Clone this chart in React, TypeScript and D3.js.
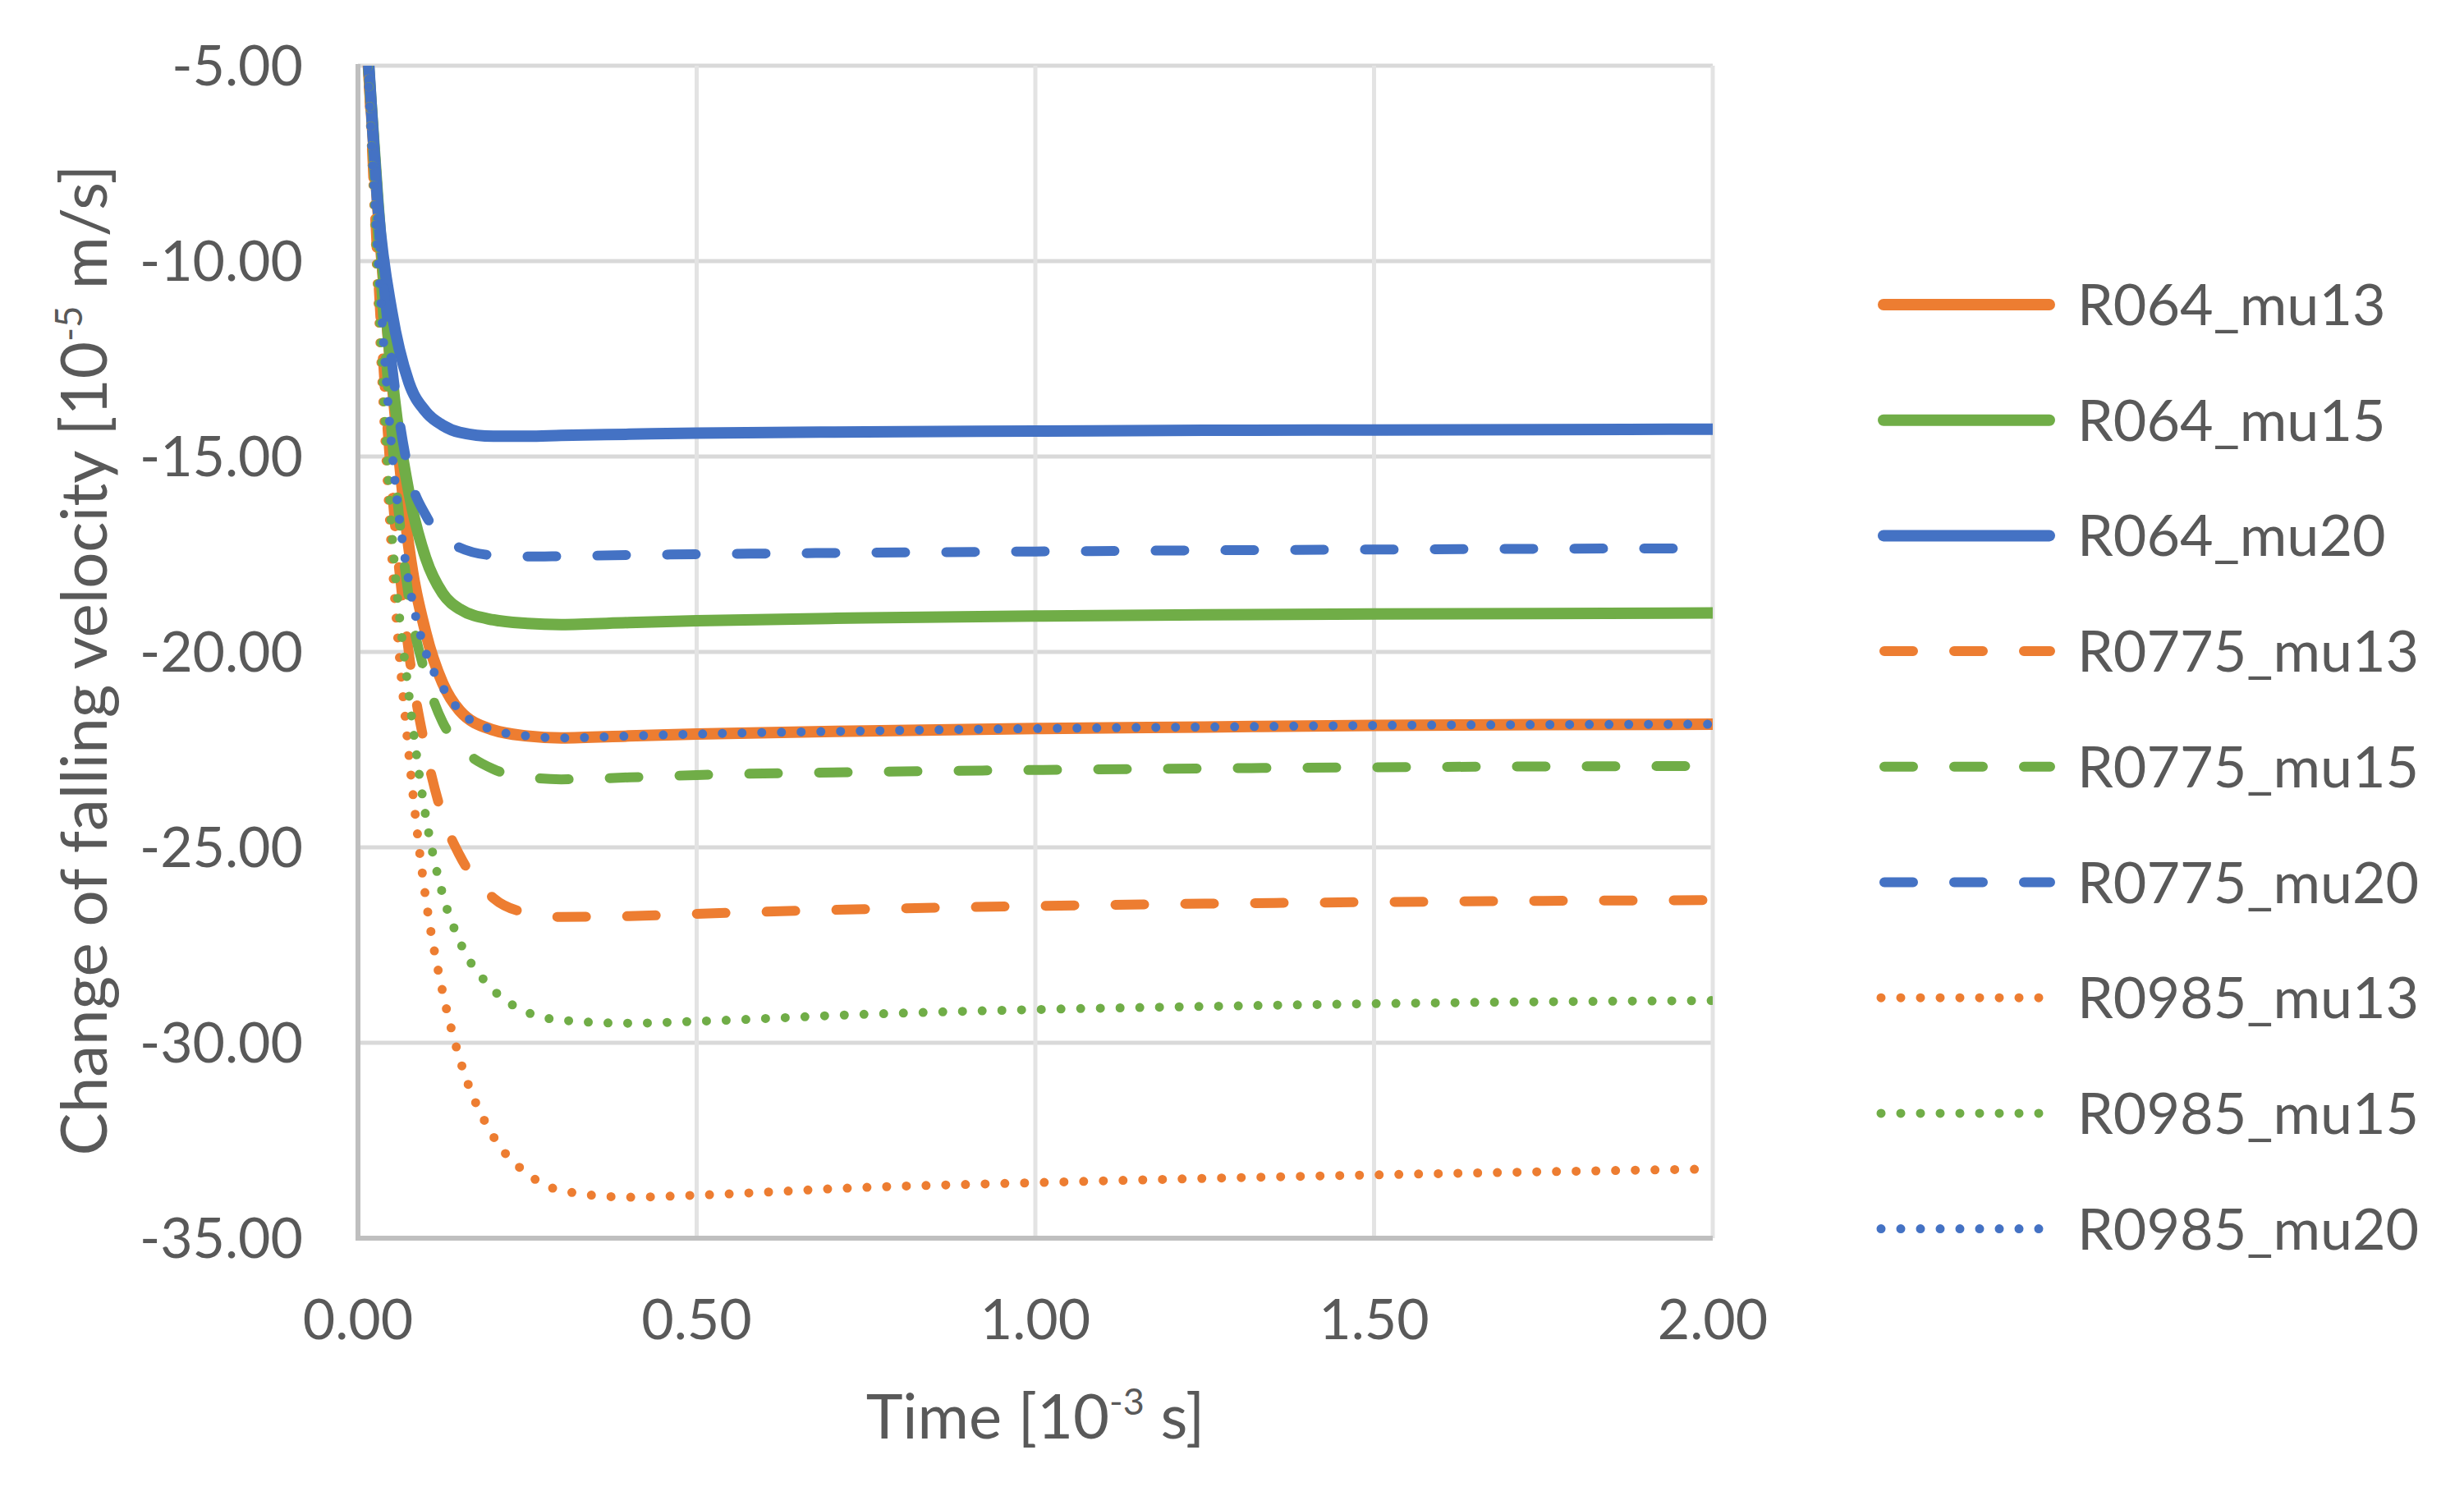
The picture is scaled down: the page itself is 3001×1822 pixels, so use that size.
import React from 'react';
import * as d3 from 'd3';

const TIME = [0, 0.016, 0.03, 0.05, 0.075, 0.1, 0.125, 0.15, 0.2, 0.25, 0.3, 0.4, 0.5, 0.75, 1.0, 1.25, 1.5, 1.75, 2.0];

const R064_mu13 = [0, -5.2, -8.8, -13.0, -17.3, -19.5, -20.8, -21.5, -22.0, -22.15, -22.2, -22.15, -22.1, -22.02, -21.96, -21.92, -21.88, -21.86, -21.85];
const R064_mu15 = [0, -5.1, -8.6, -12.9, -15.9, -17.6, -18.5, -18.9, -19.18, -19.27, -19.3, -19.25, -19.2, -19.13, -19.08, -19.05, -19.03, -19.02, -19.0];
const R064_mu20 = [0, -5.0, -8.7, -11.3, -13.1, -13.85, -14.2, -14.38, -14.48, -14.48, -14.46, -14.43, -14.4, -14.37, -14.35, -14.33, -14.32, -14.31, -14.3];
const R0775_mu13 = [0, -5.5, -10.5, -15.8, -20.0, -22.5, -24.2, -25.2, -26.3, -26.68, -26.78, -26.76, -26.7, -26.58, -26.5, -26.44, -26.4, -26.37, -26.35];
const R0775_mu15 = [0, -5.3, -9.5, -14.5, -18.6, -20.6, -21.8, -22.4, -23.0, -23.2, -23.26, -23.21, -23.15, -23.07, -23.02, -22.98, -22.95, -22.93, -22.92];
const R0775_mu20 = [0, -5.2, -9.0, -12.6, -15.4, -16.5, -17.05, -17.33, -17.53, -17.56, -17.55, -17.52, -17.5, -17.46, -17.43, -17.4, -17.38, -17.36, -17.35];
const R0985_mu13 = [0, -5.6, -11.2, -17.6, -22.6, -26.3, -28.7, -30.4, -32.4, -33.35, -33.78, -33.95, -33.9, -33.7, -33.58, -33.47, -33.38, -33.3, -33.23];
const R0985_mu15 = [0, -5.4, -10.8, -16.9, -21.07, -24.2, -26.2, -27.4, -28.65, -29.22, -29.42, -29.5, -29.45, -29.27, -29.15, -29.07, -29.0, -28.95, -28.92];
const R0985_mu20 = [0, -5.6, -10.0, -14.8, -18.2, -20.0, -20.9, -21.5, -22.0, -22.15, -22.2, -22.15, -22.1, -22.02, -21.96, -21.92, -21.88, -21.86, -21.85];

const SERIES_NAMES = ['R064_mu13', 'R064_mu15', 'R064_mu20', 'R0775_mu13', 'R0775_mu15', 'R0775_mu20', 'R0985_mu13', 'R0985_mu15', 'R0985_mu20'];
const SERIES_VALUES = [R064_mu13, R064_mu15, R064_mu20, R0775_mu13, R0775_mu15, R0775_mu20, R0985_mu13, R0985_mu15, R0985_mu20];
const SERIES_COLORS = ['#ED7D31', '#70AD47', '#4472C4', '#ED7D31', '#70AD47', '#4472C4', '#ED7D31', '#70AD47', '#4472C4'];
const SERIES_STYLES = ['solid', 'solid', 'solid', 'dash', 'dash', 'dash', 'dot', 'dot', 'dot'];

const X_TICKS = [0, 0.5, 1.0, 1.5, 2.0];
const Y_TICKS = [-5, -10, -15, -20, -25, -30, -35];

const FONT = "Lato, 'Open Sans', sans-serif";
const TEXT_COLOR = '#595959';

function styleProps(style: string) {
  if (style === 'solid') return { strokeWidth: 14 };
  if (style === 'dash') return { strokeWidth: 12, strokeDasharray: '35 50' };
  return { strokeWidth: 11, strokeDasharray: '0 24' };
}

export default function App() {
  const W = 3001, H = 1822;
  const left = 436, right = 2086, top = 80, bottom = 1508;
  const x = d3.scaleLinear().domain([0, 2]).range([left, right]);
  const y = d3.scaleLinear().domain([-35, -5]).range([bottom, top]);
  const line = d3.line<[number, number]>()
    .x(d => x(d[0]))
    .y(d => y(d[1]))
    .curve(d3.curveMonotoneX);

  const legendTextX = 2530;
  const legendY0 = 371, legendStep = 140.7;

  return (
    <svg width={W} height={H} style={{ position: 'absolute', left: 0, top: 0, background: '#fff' }}
      xmlns="http://www.w3.org/2000/svg">
      <rect x={0} y={0} width={W} height={H} fill="#fff" />
      <defs>
        <clipPath id="plotClip">
          <rect x={left} y={top} width={right - left} height={bottom - top} />
        </clipPath>
      </defs>
      {Y_TICKS.map(t => (
        <line key={'gy' + t} x1={left} x2={right} y1={y(t)} y2={y(t)} stroke="#d9d9d9" strokeWidth={5} />
      ))}
      {X_TICKS.filter(t => t > 0).map(t => (
        <line key={'gx' + t} x1={x(t)} x2={x(t)} y1={top} y2={bottom} stroke="#e3e3e3" strokeWidth={5} />
      ))}
      <line x1={left} x2={left} y1={top - 2} y2={bottom + 3} stroke="#bfbfbf" strokeWidth={6} />
      <line x1={left - 3} x2={right} y1={bottom} y2={bottom} stroke="#bfbfbf" strokeWidth={6} />

      <g clipPath="url(#plotClip)">
        {SERIES_VALUES.map((vals, i) => {
          const pts = TIME.map((t, j) => [t, vals[j]] as [number, number]);
          return (
            <path key={SERIES_NAMES[i]} d={line(pts) || ''} fill="none" stroke={SERIES_COLORS[i]}
              strokeLinecap="round" strokeLinejoin="round" {...styleProps(SERIES_STYLES[i])} />
          );
        })}
      </g>

      {Y_TICKS.map(t => (
        <text key={'ty' + t} x={369} y={y(t) + 24} textAnchor="end" fontFamily={FONT} fontSize={68} fill={TEXT_COLOR}>
          {t.toFixed(2)}
        </text>
      ))}
      {X_TICKS.map(t => (
        <text key={'tx' + t} x={x(t)} y={1631} textAnchor="middle" fontFamily={FONT} fontSize={68} fill={TEXT_COLOR}>
          {t.toFixed(2)}
        </text>
      ))}

      <text x={(left + right) / 2} y={1752} textAnchor="middle" fontFamily={FONT} fontSize={76} fill={TEXT_COLOR}>
        Time [10<tspan fontSize={45} dy={-29}>-3</tspan><tspan dy={29}> s]</tspan>
      </text>
      <text transform={`translate(130, 804) rotate(-90)`} textAnchor="middle" fontFamily={FONT} fontSize={78} fill={TEXT_COLOR}>
        Change of falling velocity [10<tspan fontSize={46} dy={-30}>-5</tspan><tspan dy={30}> m/s]</tspan>
      </text>

      {SERIES_NAMES.map((name, i) => {
        const cy = legendY0 + i * legendStep;
        const st = SERIES_STYLES[i];
        const x0 = st === 'solid' ? 2294 : st === 'dash' ? 2295 : 2291;
        const x1 = st === 'solid' ? 2496 : st === 'dash' ? 2497 : 2484;
        return (
          <g key={'lg' + name}>
            <line x1={x0} x2={x1} y1={cy} y2={cy} stroke={SERIES_COLORS[i]} strokeLinecap="round"
              {...styleProps(st)} />
            <text x={legendTextX} y={cy + 25} fontFamily={FONT} fontSize={70} fill={TEXT_COLOR}>{name}</text>
          </g>
        );
      })}
    </svg>
  );
}
